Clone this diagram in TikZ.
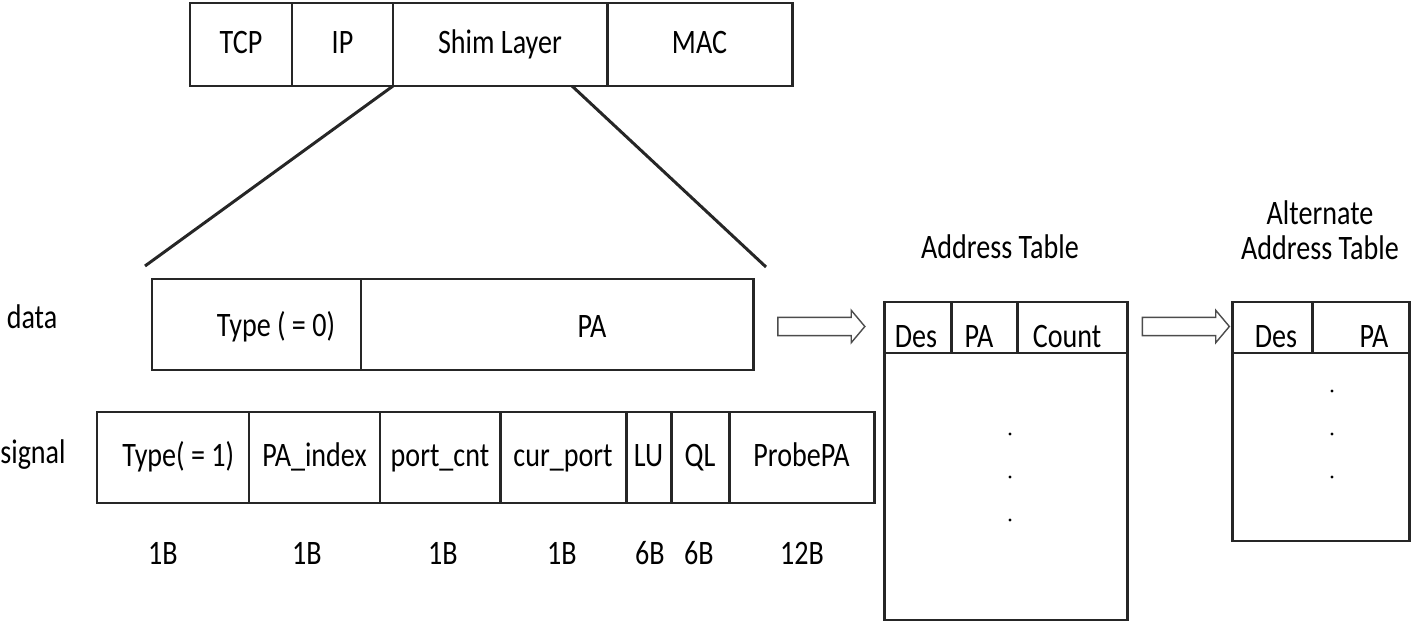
\documentclass[tikz,border=0pt]{standalone}
\usepackage{fontspec}
\setmainfont{Carlito}[FakeStretch=0.82]
\usetikzlibrary{calc,shapes.arrows}
\def\pxl{0.2mm}
\tikzset{
	cell/.style={draw=black!85, line width=1.7pt, anchor=north west, inner sep=0pt, outer sep=0pt, text height=1em, text depth=0pt},
	toprow/.style={cell, minimum height=83*\pxl},
	pktrow/.style={cell, minimum height=91*\pxl},
	headrow/.style={cell, minimum height=51*\pxl},
	hollow arrow/.style={single arrow, draw=black!70, line width=0.8pt, inner sep=4.8pt, single arrow head extend=4pt, single arrow tip angle=100, minimum height=87*\pxl},
}
\begin{document}
\begin{tikzpicture}[x=\pxl,y=-\pxl,font=\fontsize{19.5}{19.8}\selectfont]
	\useasboundingbox (0,0) rectangle (1415,629);
	% protocol stack
	\node[toprow, minimum width=102*\pxl] (tcp) at (190,3) {TCP};
	\node[toprow, minimum width=101*\pxl] (ip) at (tcp.north east) {IP};
	\node[toprow, minimum width=214*\pxl] (shim) at (ip.north east) {Shim Layer};
	\node[toprow, minimum width=185*\pxl] (mac) at (shim.north east) {MAC};
	\coordinate (zoomL) at (145,266);
	\coordinate (zoomR) at (766,267);
	\draw[black!85, line width=1.7pt] (shim.south west) -- (zoomL);
	\draw[black!85, line width=1.7pt] ($(shim.south west)+(179,0)$) -- (zoomR);
	% data packet
	\node (lbldata) at (32,317) {data};
	\node[pktrow, minimum width=209*\pxl] (dtype) at (152,279) {};
	\node[pktrow, minimum width=392*\pxl] (dpa) at (dtype.north east) {};
	\node (tdtype) at (276,327) {Type ( = 0)};
	\node (tdpa) at (592,327) {PA};
	% signal packet
	\node (lblsig) at (33,455) {signal};
	\node[pktrow, minimum width=152*\pxl] (stype) at (97,412) {\hspace*{6pt}Type( = 1)};
	\node[pktrow, minimum width=131*\pxl] (sidx) at (stype.north east) {PA\_index};
	\node[pktrow, minimum width=120*\pxl] (scnt) at (sidx.north east) {port\_cnt};
	\node[pktrow, minimum width=126*\pxl] (scur) at (scnt.north east) {cur\_port};
	\node[pktrow, minimum width=45*\pxl] (slu) at (scur.north east) {LU};
	\node[pktrow, minimum width=58*\pxl] (sql) at (slu.north east) {QL};
	\node[pktrow, minimum width=145*\pxl] (sprobe) at (sql.north east) {ProbePA};
	\foreach \x/\t [count=\i] in {163/1B,307/1B,443/1B,562/1B,650/6B,699/6B,802/12B}
		\node (size\i) at (\x,553) {\t};
	% arrows
	\node[hollow arrow] (arrA) at (817.5,326.5) {};
	\node[hollow arrow] (arrB) at (1182,326.5) {};
	% address table
	\node (ttl) at (1000,247) {Address Table};
	\node[headrow, minimum width=67*\pxl] (ades) at (884,302) {};
	\node[headrow, minimum width=66*\pxl] (apa) at (ades.north east) {};
	\node[headrow, minimum width=110*\pxl] (acnt) at (apa.north east) {};
	\node[cell, minimum width=243*\pxl, minimum height=267*\pxl] (abody) at (ades.south west) {};
	\node[anchor=base] (tades) at (916,347) {Des};
	\node[anchor=base] (tapa) at (979,347) {PA};
	\node[anchor=base] (tacnt) at (1067,347) {Count};
	\foreach \y in {434,477,520}
		\fill (1010,\y) circle (0.9pt);
	% alternate address table
	\node[align=center] (altttl) at (1320,230) {Alternate\\Address Table};
	\node[headrow, minimum width=80*\pxl] (bdes) at (1232,302) {};
	\node[headrow, minimum width=97*\pxl] (bpa) at (bdes.north east) {};
	\node[cell, minimum width=177*\pxl, minimum height=188*\pxl] (bbody) at (bdes.south west) {};
	\node[anchor=base] (tbdes) at (1276,347) {Des};
	\node[anchor=base] (tbpa) at (1374,347) {PA};
	\foreach \y in {391,434,477}
		\fill (1332,\y) circle (0.9pt);
\end{tikzpicture}
\end{document}
